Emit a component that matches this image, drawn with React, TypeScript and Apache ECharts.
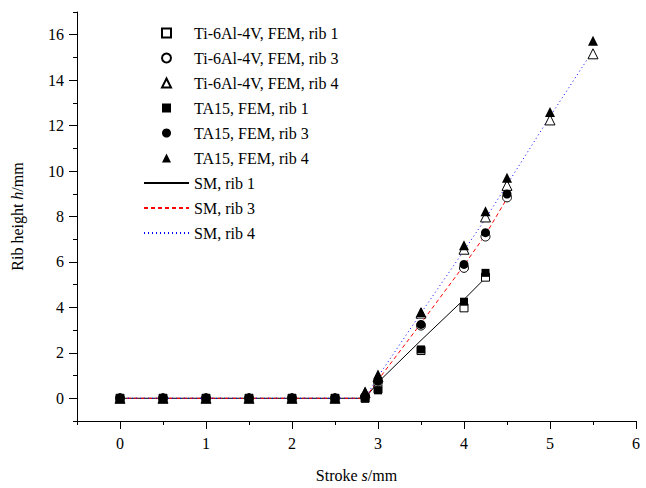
import React, { useEffect, useRef } from "react";
import * as echarts from "echarts";

const strokeFEM = [0, 0.5, 1, 1.5, 2, 2.5, 2.85, 3, 3.5, 4, 4.25, 4.5, 5, 5.5];
const tiRib1 = [0, 0, 0, 0, 0, 0, 0, 0.4, 2.1, 3.98, 5.33];
const tiRib3 = [0, 0, 0, 0, 0, 0, 0.05, 0.7, 3.2, 5.74, 7.12, 8.84];
const tiRib4 = [0, 0, 0, 0, 0, 0, 0.25, 0.95, 3.75, 6.56, 7.98, 9.37, 12.25, 15.16];
const ta15Rib1 = [0, 0, 0, 0, 0, 0, 0, 0.35, 2.15, 4.25, 5.52];
const ta15Rib3 = [0, 0, 0, 0, 0, 0, 0.1, 0.75, 3.25, 5.89, 7.29, 8.99];
const ta15Rib4 = [0, 0, 0, 0, 0, 0, 0.3, 1.05, 3.8, 6.74, 8.23, 9.71, 12.6, 15.74];

const smStroke1 = [0, 2.85, 3, 3.5, 4, 4.25];
const smRib1 = [0, 0, 0.7, 2.55, 4.35, 5.3];
const smStroke3 = [0, 2.85, 3, 3.5, 4, 4.25, 4.5];
const smRib3 = [0, 0, 0.8, 3.3, 5.85, 7.2, 8.8];
const smStroke4 = [0, 2.85, 3, 3.5, 4, 4.25, 4.5, 5, 5.5];
const smRib4 = [0, 0, 0.95, 3.75, 6.5, 7.9, 9.4, 12.4, 15.3];

const xMajorTicks = [0, 1, 2, 3, 4, 5, 6];
const xMinorTicks = [-0.5, 0.5, 1.5, 2.5, 3.5, 4.5, 5.5];
const yMajorTicks = [0, 2, 4, 6, 8, 10, 12, 14, 16];
const yMinorTicks = [-1, 1, 3, 5, 7, 9, 11, 13, 15, 17];

const FONT = "'Liberation Serif', 'Times New Roman', Times, serif";

const SQUARE_ICON = "path://M0,0L10,0L10,10L0,10Z";
const TRIANGLE_ICON = "path://M5,0L10,10L0,10Z";

function pairs(xs: number[], ys: number[]) {
  return ys.map((y, i) => [xs[i], y]);
}

function makeNameStyle() {
  return {
    fontFamily: FONT,
    fontSize: 16,
    color: "#000",
    rich: {
      n: { fontFamily: FONT, fontSize: 16, color: "#000" },
      i: { fontFamily: FONT, fontSize: 16, fontStyle: "italic", color: "#000" },
    },
  };
}

export default function App() {
  const ref = useRef<HTMLDivElement>(null);
  useEffect(() => {
    if (!ref.current) return;
    const chart = echarts.init(ref.current, null, { renderer: "svg" });
    const open = { color: "#ffffff", borderColor: "#000000", borderWidth: 1, opacity: 1 };
    const filled = { color: "#000000", borderColor: "#000000", borderWidth: 0, opacity: 1 };
    const scatter = (name: string, data: number[][], symbol: string, style: any, size: number) => ({
      name,
      type: "scatter",
      data,
      symbol,
      symbolSize: size,
      itemStyle: style,
      z: 3,
    });
    const line = (name: string, data: number[][], color: string, type: any) => ({
      name,
      type: "line",
      data,
      symbol: "none",
      lineStyle: { color, width: 1, type },
      itemStyle: { color: "rgba(0,0,0,0)", borderWidth: 0, opacity: 0 },
      z: 2,
    });
    const axisLineOn = () => ({ show: true, onZero: false, lineStyle: { color: "#000", width: 1 } });
    const hiddenLine = () => ({ show: false, onZero: false });
    const labelStyle = () => ({ fontFamily: FONT, fontSize: 16, color: "#000" });
    chart.setOption({
      animation: false,
      backgroundColor: "#ffffff",
      textStyle: { fontFamily: FONT },
      grid: { left: 77, right: 10, top: 12, bottom: 63 },
      legend: {
        orient: "vertical",
        left: 138,
        top: 20,
        itemWidth: 45,
        itemHeight: 9,
        itemGap: 9,
        textStyle: { fontFamily: FONT, fontSize: 16, color: "#000" },
        data: [
          { name: "Ti-6Al-4V, FEM, rib 1", icon: SQUARE_ICON },
          { name: "Ti-6Al-4V, FEM, rib 3", icon: "circle" },
          { name: "Ti-6Al-4V, FEM, rib 4", icon: TRIANGLE_ICON },
          { name: "TA15, FEM, rib 1", icon: SQUARE_ICON },
          { name: "TA15, FEM, rib 3", icon: "circle" },
          { name: "TA15, FEM, rib 4", icon: TRIANGLE_ICON },
          { name: "SM, rib 1" },
          { name: "SM, rib 3" },
          { name: "SM, rib 4" },
        ],
      },
      xAxis: [
        {
          type: "value",
          min: -0.5,
          max: 6,
          axisLine: axisLineOn(),
          splitLine: { show: false },
          name: "{n|Stroke }{i|s}{n|/mm}",
          nameLocation: "middle",
          nameGap: 46,
          nameTextStyle: makeNameStyle(),
          axisTick: { show: true, length: 8, customValues: xMajorTicks, lineStyle: { color: "#000" } },
          axisLabel: { customValues: xMajorTicks, ...labelStyle(), margin: 14 },
        },
        {
          type: "value",
          min: -0.5,
          max: 6,
          position: "bottom",
          axisLine: hiddenLine(),
          splitLine: { show: false },
          axisTick: { show: true, length: 4, customValues: xMinorTicks, lineStyle: { color: "#000" } },
          axisLabel: { show: false, customValues: xMinorTicks },
        },
      ],
      yAxis: [
        {
          type: "value",
          min: -1,
          max: 17,
          axisLine: axisLineOn(),
          splitLine: { show: false },
          name: "{n|Rib height }{i|h}{n|/mm}",
          nameLocation: "middle",
          nameGap: 52,
          nameTextStyle: makeNameStyle(),
          axisTick: { show: true, length: 8, customValues: yMajorTicks, lineStyle: { color: "#000" } },
          axisLabel: { customValues: yMajorTicks, ...labelStyle(), margin: 13 },
        },
        {
          type: "value",
          min: -1,
          max: 17,
          position: "left",
          axisLine: hiddenLine(),
          splitLine: { show: false },
          axisTick: { show: true, length: 4, customValues: yMinorTicks, lineStyle: { color: "#000" } },
          axisLabel: { show: false, customValues: yMinorTicks },
        },
      ],
      series: [
        line("SM, rib 1", pairs(smStroke1, smRib1), "#000000", "solid"),
        line("SM, rib 3", pairs(smStroke3, smRib3), "#ff0000", [4, 3]),
        line("SM, rib 4", pairs(smStroke4, smRib4), "#0000ff", [1, 3]),
        scatter("Ti-6Al-4V, FEM, rib 1", pairs(strokeFEM, tiRib1), "rect", open, 8),
        scatter("Ti-6Al-4V, FEM, rib 3", pairs(strokeFEM, tiRib3), "circle", open, 9),
        scatter("Ti-6Al-4V, FEM, rib 4", pairs(strokeFEM, tiRib4), "triangle", open, 10),
        scatter("TA15, FEM, rib 1", pairs(strokeFEM, ta15Rib1), "rect", filled, 8),
        scatter("TA15, FEM, rib 3", pairs(strokeFEM, ta15Rib3), "circle", filled, 9),
        scatter("TA15, FEM, rib 4", pairs(strokeFEM, ta15Rib4), "triangle", filled, 10),
      ],
    });
    return () => chart.dispose();
  }, []);
  return <div ref={ref} style={{ width: 646, height: 488, position: "absolute", left: 0, top: 0 }} />;
}
